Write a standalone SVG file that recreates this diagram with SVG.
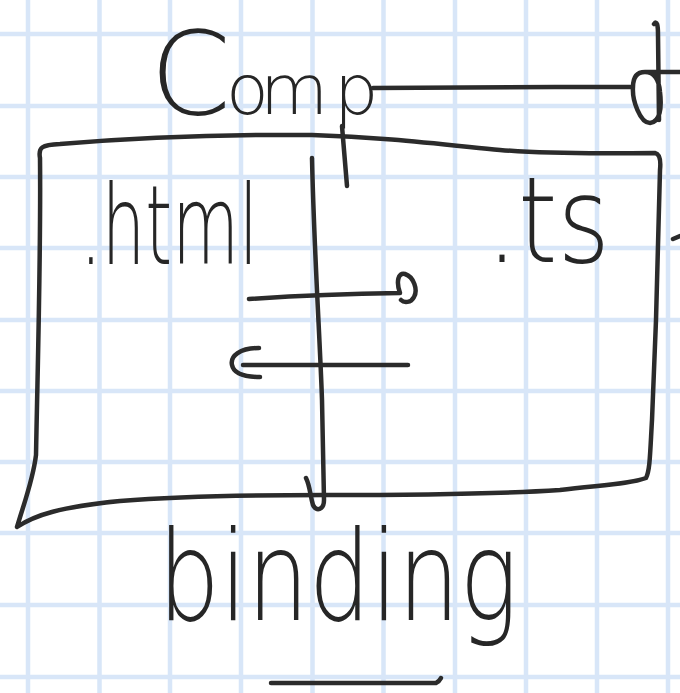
<svg xmlns="http://www.w3.org/2000/svg" width="680" height="693" viewBox="0 0 680 693">
<style>
.grid{fill:none;stroke:#d8e6f8;stroke-width:4.5}
.ink{fill:none;stroke:#2b2b2b;stroke-width:4.5;stroke-linecap:round;stroke-linejoin:round}
.hand{font-family:"DejaVu Sans","Liberation Sans",sans-serif;font-weight:200;fill:#262626}
</style>
<rect x="0" y="0" width="680" height="693" fill="#ffffff"/>
<g id="grid">
<path class="grid" d="M28 0V693M99.5 0V693M170 0V693M241 0V693M312.5 0V693M383.5 0V693M455 0V693M526 0V693M597 0V693M668 0V693M0 34H680M0 106H680M0 177H680M0 248H680M0 320H680M0 391H680M0 462H680M0 533H680M0 605H680M0 677H680"/>
</g>
<g id="component-box">
<path class="ink" d="M40 158 C38 147,42 145,60 144 C120 139,200 134,312 135 C380 137,430 143,500 150 C560 155,620 153,655 153 C660 154,661 160,660 170 L656 320 L652 420 C650 455,650 470,646 478 C630 484,600 485,560 490 C500 494,420 495,325 495 C240 495,170 497,120 501 C60 507,35 515,17 527 C25 500,33 480,36 455 C38 350,41 250,40 158 Z"/>
</g>
<g id="title-comp">
<text class="hand" y="114"><tspan x="150" font-size="116">C</tspan><tspan x="226 260 334" font-size="70">omp</tspan></text>
</g>
<g id="html-part">
<text class="hand" x="80" y="264" font-size="110" textLength="178" lengthAdjust="spacingAndGlyphs">.html</text>
</g>
<g id="ts-part">
<text class="hand" x="486" y="262" font-size="120" textLength="124" lengthAdjust="spacingAndGlyphs">.ts</text>
</g>
<g id="binding-label">
<text class="hand" x="158" y="620" font-size="125" textLength="360" lengthAdjust="spacingAndGlyphs">binding</text>
</g>
<g id="connectors">
<path class="ink" d="M312 158 C314 250,320 340,322 400 L324 500 C324 510,316 512,313 505 C310 495,310 486,306 478"/>
<path class="ink" d="M249 299 Q320 294 400 293 C396 282,398 272,405 274 C414 277,418 290,414 297 C411 303,404 303,401 300"/>
<path class="ink" d="M408 365 L243 365 M259 348 C240 348,230 356,232 365 C234 375,248 377,260 377"/>
<path class="ink" d="M342 126 L347 186"/>
<path class="ink" d="M373 88 L555 87 L633 87 C632 100,640 123,650 123 C660 122,662 108,660 92 C659 80,655 72,645 72 C636 72,633 78,633 87 M645 72 L680 72 M654 24 C657 20,658 25,658 35 L659 120"/>
<path class="ink" d="M673 239 L680 236"/>
<path class="ink" d="M271 683 L436 683 C438 682,440 680,441 678"/>
</g>
</svg>
